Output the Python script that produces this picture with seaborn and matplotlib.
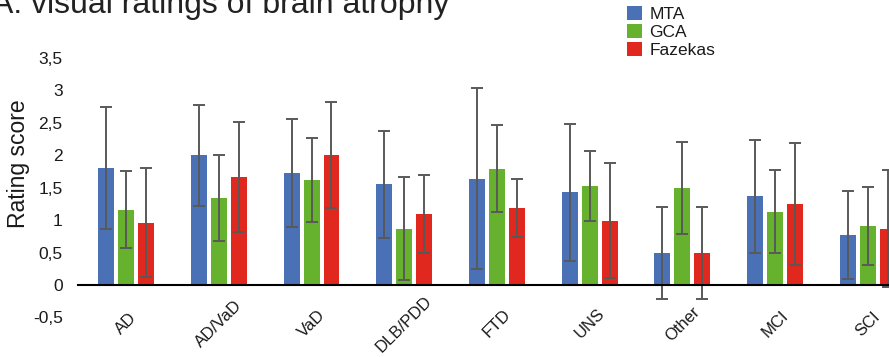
import pandas as pd
import numpy as np
import matplotlib
matplotlib.use('Agg')
import matplotlib.pyplot as plt
import seaborn as sns

# values (mean and SD per diagnosis group)
groups = ['AD', 'AD/VaD', 'VaD', 'DLB/PDD', 'FTD', 'UNS', 'Other', 'MCI', 'SCI']
measures = ['MTA', 'GCA', 'Fazekas']

mta_mean = [1.80, 2.00, 1.73, 1.55, 1.64, 1.43, 0.49, 1.37, 0.77]
mta_sd = [0.94, 0.78, 0.83, 0.82, 1.40, 1.06, 0.71, 0.87, 0.68]
gca_mean = [1.16, 1.34, 1.62, 0.87, 1.79, 1.53, 1.49, 1.13, 0.91]
gca_sd = [0.59, 0.66, 0.65, 0.79, 0.67, 0.54, 0.71, 0.64, 0.60]
faz_mean = [0.96, 1.66, 2.00, 1.10, 1.19, 0.99, 0.49, 1.25, 0.87]
faz_sd = [0.84, 0.85, 0.82, 0.60, 0.45, 0.89, 0.71, 0.94, 0.90]

ytick_values = [-0.5, 0, 0.5, 1, 1.5, 2, 2.5, 3, 3.5]
ytick_labels = ['-0,5', '0', '0,5', '1', '1,5', '2', '2,5', '3', '3,5']

colors = ['#4a70b6', '#66b22e', '#e0281f']

df = pd.DataFrame({
    'group': groups * 3,
    'measure': np.repeat(measures, len(groups)),
    'score': mta_mean + gca_mean + faz_mean,
})
sds = [mta_sd, gca_sd, faz_sd]

sns.set_style('white')
plt.rcParams['font.family'] = ['Liberation Sans', 'DejaVu Sans']

fig = plt.figure(figsize=(8.89, 3.57), dpi=100)
ax = fig.add_axes([0.0877, 0.111, 0.9123, 0.7265])

sns.barplot(data=df, x='group', y='score', hue='measure', order=groups,
            hue_order=measures, palette=colors, saturation=1,
            width=0.645, gap=0.2, errorbar=None, linewidth=0, ax=ax)

# error bars on top of the bars seaborn drew
for cont, sd in zip(ax.containers, sds):
    xs = [b.get_x() + b.get_width() / 2 for b in cont]
    hs = [b.get_height() for b in cont]
    ax.errorbar(xs, hs, yerr=sd, fmt='none', ecolor='#595959',
                elinewidth=1.4, capsize=4, capthick=1.4, zorder=3)

ax.set_xlim(-0.52, 8.23)
ax.set_ylim(-0.5, 3.5)
ax.set_yticks(ytick_values)
ax.set_yticklabels(ytick_labels, fontsize=12.5, color='#1a1a1a')
ax.tick_params(axis='y', length=0, pad=11)

for s in ['left', 'right', 'top']:
    ax.spines[s].set_visible(False)
ax.spines['bottom'].set_position(('data', 0))
ax.spines['bottom'].set_color('black')
ax.spines['bottom'].set_linewidth(1.5)
ax.spines['bottom'].set_zorder(4)

ax.tick_params(axis='x', length=0, pad=28)
plt.setp(ax.get_xticklabels(), rotation=45, ha='center', va='center',
         fontsize=12, color='#1a1a1a')
ax.set_xlabel('')
ax.set_ylabel('Rating score', fontsize=16.5, color='#1a1a1a')
ax.yaxis.set_label_coords(-0.059, 0.591)

leg = ax.legend(loc='upper left', bbox_to_anchor=(627 / 889, 0.982),
                bbox_transform=fig.transFigure, frameon=False, fontsize=12.5,
                handlelength=0.85, handleheight=0.85, labelspacing=0.12,
                handletextpad=0.45, borderpad=0, borderaxespad=0)
for t in leg.get_texts():
    t.set_color('#1a1a1a')

fig.text(-8 / 889, (357 - 13) / 357, 'A. visual ratings of brain atrophy',
         fontsize=23, va='baseline', ha='left', color='#222222')

fig.savefig('out.png', dpi=100)
